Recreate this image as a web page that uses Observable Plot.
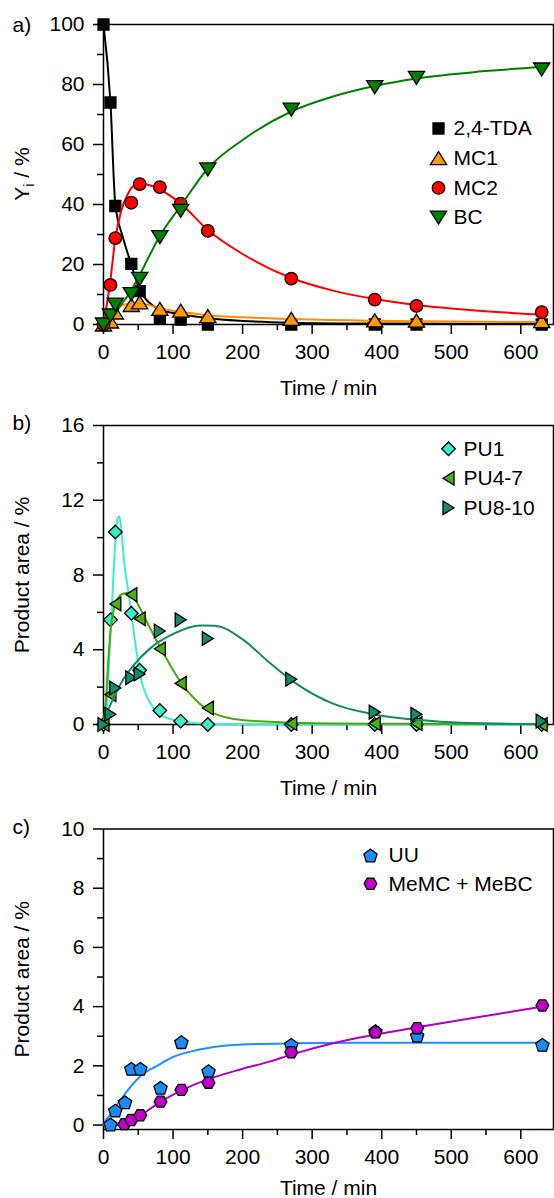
<!DOCTYPE html>
<html><head><meta charset="utf-8">
<script src="https://cdn.jsdelivr.net/npm/d3@7"></script>
<script src="https://cdn.jsdelivr.net/npm/@observablehq/plot@0.6"></script>
<style>
body{margin:0;background:#fff;}
#chart svg{display:block;}
</style></head>
<body><div id="chart"></div>
<script>
// ---------- DATA ----------
// panel a
const timeA = [0, 10, 17, 40, 52, 81, 111, 150, 270, 390, 450, 630];
const tda = [100, 74, 39.5, 20.2, 11.1, 2.2, 1.6, 0, 0, 0, 0, 0];
const mc1 = [0, 1, 4, 6.5, 7.4, 5.2, 4.6, 2.8, 1.9, 1.4, 1.3, 1.1];
const mc2 = [0, 13.2, 28.8, 40.6, 46.8, 45.8, 40.3, 31.2, 15.3, 8.3, 6.2, 4.1];
const bc = [0, 3, 6.6, 10.1, 15.2, 29.1, 37.9, 51.7, 71.6, 79.1, 82.2, 85];
const fitTdaT = [0, 10, 17, 28, 40, 52, 65, 81, 100, 125, 150, 200, 270, 390, 630];
const fitTda = [100, 74, 40, 29, 20, 11.5, 7.4, 5, 3.8, 2.9, 2.1, 1.2, 0.6, 0.3, 0.15];
const fitMc1T = [0, 5, 10, 17, 25, 35, 45, 55, 70, 81, 101, 125, 150, 200, 270, 390, 450, 630];
const fitMc1 = [0, 1.5, 3.2, 5, 6.2, 6.9, 7.1, 6.9, 6.2, 5.4, 4.5, 3.8, 3.1, 2.4, 1.8, 1.25, 1.05, 0.8];
const fitMc2T = [0, 5, 10, 17, 25, 35, 45, 55, 65, 81, 111, 150, 200, 270, 330, 390, 450, 540, 630];
const fitMc2 = [0, 7, 15, 28.5, 37.5, 43.5, 46.5, 47, 46.5, 45, 40.3, 31.5, 23.5, 15.5, 11.3, 8.5, 6.5, 4.6, 3.3];
const fitBcT = [0, 10, 20, 30, 40, 52, 65, 81, 111, 150, 200, 270, 330, 390, 450, 540, 630];
const fitBc = [0, 2, 5, 8, 11.5, 16.5, 22.5, 29.5, 39.5, 52, 61.5, 71, 76, 79.5, 82, 84.3, 85.8];
const seriesA = ["2,4-TDA", "MC1", "MC2", "BC"];

// panel b
const timeB = [0, 10, 17, 40, 52, 81, 111, 150, 270, 390, 450, 630];
const pu1 = [0, 5.6, 10.3, 5.95, 2.9, 0.75, 0.18, 0, 0, 0, 0, 0];
const pu47 = [0, 1.6, 6.45, 6.95, 5.66, 4.05, 2.2, 0.88, 0.05, 0.05, 0.05, 0];
const pu810 = [0, 0.55, 1.95, 2.5, 2.7, 5.0, 5.6, 4.6, 2.42, 0.66, 0.55, 0.18];
const fitPu1T = [0, 3, 7, 12.5, 17, 20, 22, 25, 27, 30, 35, 41, 44, 50, 53, 60, 68, 80, 92, 105, 120, 150, 200, 630];
const fitPu1 = [0, 0, 2.6, 6.6, 9.8, 11, 11.15, 10.7, 9.85, 8.6, 7.3, 5.7, 4.8, 3.3, 2.6, 1.7, 1.1, 0.55, 0.35, 0.2, 0.12, 0.04, 0.01, 0];
const fitPu47T = [0, 3.5, 7, 10, 15, 20, 28, 38, 50, 65, 82, 111, 149, 187, 254, 330, 450, 630];
const fitPu47 = [0, 1.3, 3.5, 5, 6.2, 6.7, 7, 7.05, 6.4, 5.3, 4.1, 2.27, 0.8, 0.3, 0.12, 0.06, 0.04, 0.03];
const fitPu810T = [0, 5, 13, 25, 44, 68, 101, 139, 160, 202, 235, 274, 331, 389, 451, 514, 630];
const fitPu810 = [0, 0.6, 1.3, 2.2, 3.2, 4.1, 4.86, 5.3, 5.28, 4.5, 3.43, 2.27, 1.1, 0.54, 0.25, 0.09, 0.03];
const seriesB = ["PU1", "PU4-7", "PU8-10"];

// panel c
const timeC = [10, 17, 31, 40, 53, 82, 112, 151, 270, 391, 451, 631];
const uu = [0.02, 0.49, 0.77, 1.9, 1.9, 1.26, 2.8, 1.82, 2.71, 3.17, 3.02, 2.71];
const timeC2 = [30, 40, 53, 82, 112, 151, 270, 391, 451, 631];
const memc = [0.03, 0.17, 0.33, 0.79, 1.19, 1.43, 2.46, 3.13, 3.27, 4.04];
const fitUuT = [0, 3, 10, 20, 34, 53, 77, 100, 125, 150, 200, 270, 390, 630];
const fitUu = [0, 0.15, 0.35, 0.7, 1.15, 1.65, 2.0, 2.3, 2.48, 2.6, 2.72, 2.76, 2.78, 2.78];
const fitMemcT = [20, 30, 40, 53, 82, 112, 151, 200, 240, 270, 336, 390, 451, 540, 631];
const fitMemc = [0, 0.05, 0.15, 0.33, 0.78, 1.17, 1.55, 1.9, 2.15, 2.38, 2.8, 3.05, 3.3, 3.65, 4.0];
const seriesC = ["UU", "MeMC + MeBC"];

// ticks
const xMajor = [0, 100, 200, 300, 400, 500, 600];
const xMinor = [50, 150, 250, 350, 450, 550];
const yMajorA = [0, 20, 40, 60, 80, 100], yMinorA = [10, 30, 50, 70, 90];
const yMajorB = [0, 4, 8, 12, 16], yMinorB = [2, 6, 10, 14];
const yMajorC = [0, 2, 4, 6, 8, 10], yMinorC = [1, 3, 5, 7, 9];

// ---------- SYMBOLS ----------
function sym(points) {
  return {draw(ctx, size) {
    const r = Math.sqrt(size / Math.PI);
    points.forEach(([x, y], i) => i ? ctx.lineTo(x * r, y * r) : ctx.moveTo(x * r, y * r));
    ctx.closePath();
  }};
}
const triUp = sym([[0, -1], [1.25, 1], [-1.25, 1]]);
const triDown = sym([[0, 1], [1.25, -1], [-1.25, -1]]);
const triLeft = sym([[-1, 0], [1, -1.25], [1, 1.25]]);
const triRight = sym([[1, 0], [-1, -1.25], [-1, 1.25]]);
const diamond = sym([[0, -1], [1, 0], [0, 1], [-1, 0]]);
const square = sym([[-1, -1], [1, -1], [1, 1], [-1, 1]]);
const pentagon = sym(d3.range(5).map(k => {const a = -Math.PI / 2 + k * 2 * Math.PI / 5; return [Math.cos(a), Math.sin(a) + 0.095];}));
const hexagon = sym(d3.range(6).map(k => {const a = k * Math.PI / 3; return [Math.cos(a), Math.sin(a)];}));

const FONT = "'Liberation Sans', Arial, Helvetica, sans-serif";
const pts = (t, v) => t.map((x, i) => ({t: x, v: v[i]}));

function axes(yMajor, yMinor) {
  return [
    Plot.axisX({ticks: xMajor, tickSize: 10, tickPadding: 10, label: null, fontSize: 21, strokeWidth: 1.5}),
    Plot.axisX({ticks: xMinor, tickSize: 6, fill: "none", label: null, strokeWidth: 1.5}),
    Plot.axisY({ticks: yMajor, tickSize: 10, tickPadding: 9, label: null, fontSize: 21, strokeWidth: 1.5}),
    Plot.axisY({ticks: yMinor, tickSize: 6, fill: "none", label: null, strokeWidth: 1.5}),
    Plot.frame({strokeWidth: 1.5})
  ];
}
function series(t, v, ft, fv, st) {
  return [
    Plot.line(pts(ft, fv), {x: "t", y: "v", stroke: st.line, strokeWidth: 2, curve: "monotone-x"}),
    Plot.dot(pts(t, v), {x: "t", y: "v", symbol: st.symbol, r: st.r, fill: st.fill, stroke: "#000", strokeWidth: 1.3})
  ];
}
function legend(labels, styles, dxSym, dxText, dy0, step) {
  return labels.flatMap((lab, i) => [
    Plot.dot([0], {frameAnchor: "top-left", dx: dxSym, dy: dy0 + i * step, symbol: styles[i].symbol, r: styles[i].r, fill: styles[i].fill, stroke: "#000", strokeWidth: 1.3}),
    Plot.text([lab], {frameAnchor: "top-left", dx: dxText, dy: dy0 + i * step, textAnchor: "start", lineAnchor: "middle", fontSize: 21, fill: "#000"})
  ]);
}
const txt = (s, o) => Plot.text([s], {fontSize: 21, fill: "#000", lineAnchor: "middle", ...o});
const baseStyle = {fontFamily: FONT, fontSize: "21px", color: "#000", background: "#fff", overflow: "visible"};
const xScale = {domain: [0, 647]};

// ---------- PANEL A ----------
const stA = [
  {symbol: square, r: 5.5, fill: "#000000", line: "#000000"},
  {symbol: triUp, r: 6.5, fill: "#FF9900", line: "#FF8C00"},
  {symbol: "circle", r: 6.3, fill: "#FF0000", line: "#FF0000"},
  {symbol: triDown, r: 6.5, fill: "#008000", line: "#008000"}
];
const plotA = Plot.plot({
  width: 554, height: 400, marginTop: 24, marginBottom: 76, marginLeft: 103, marginRight: 1,
  style: baseStyle, x: xScale, y: {domain: [0, 100]},
  marks: [
    ...axes(yMajorA, yMinorA),
    ...series(timeA, tda, fitTdaT, fitTda, stA[0]),
    ...series(timeA, mc1, fitMc1T, fitMc1, stA[1]),
    ...series(timeA, mc2, fitMc2T, fitMc2, stA[2]),
    ...series(timeA, bc, fitBcT, fitBc, stA[3]),
    ...legend(seriesA, stA, 335, 350, 104, 29.7),
    txt("Time / min", {frameAnchor: "bottom", dy: 64, textAnchor: "middle"}),
    txt("a)", {frameAnchor: "top-left", dx: -91, dy: 1, textAnchor: "start"})
  ]
});
// y-axis title with subscript
{
  const t = d3.select(plotA).append("text")
    .attr("transform", "translate(22,174) rotate(-90)")
    .attr("text-anchor", "middle").attr("dy", "0.35em")
    .attr("font-size", 21).attr("fill", "#000").attr("font-family", FONT);
  t.append("tspan").text("Y");
  t.append("tspan").attr("font-size", 14).attr("dy", 5).text("i");
  t.append("tspan").attr("dy", -5).text(" / %");
}

// ---------- PANEL B ----------
const stB = [
  {symbol: diamond, r: 6.8, fill: "#36F0C6", line: "#36F2C8"},
  {symbol: triLeft, r: 5.5, fill: "#4EAF14", line: "#4AA80F"},
  {symbol: triRight, r: 5.5, fill: "#178A6A", line: "#138A62"}
];
const plotB = Plot.plot({
  width: 554, height: 400, marginTop: 25, marginBottom: 76, marginLeft: 103, marginRight: 1,
  style: baseStyle, x: xScale, y: {domain: [0, 16]},
  marks: [
    ...axes(yMajorB, yMinorB),
    ...series(timeB, pu1, fitPu1T, fitPu1, stB[0]),
    ...series(timeB, pu47, fitPu47T, fitPu47, stB[1]),
    ...series(timeB, pu810, fitPu810T, fitPu810, stB[2]),
    ...legend(seriesB, stB, 345, 360, 23.3, 29.5),
    txt("Time / min", {frameAnchor: "bottom", dy: 64, textAnchor: "middle"}),
    txt("Product area / %", {frameAnchor: "left", dx: -81, rotate: -90, textAnchor: "middle"}),
    txt("b)", {frameAnchor: "top-left", dx: -91, dy: -2, textAnchor: "start"})
  ]
});

// ---------- PANEL C ----------
const stC = [
  {symbol: pentagon, r: 7, fill: "#1A8CF5", line: "#1E90FF"},
  {symbol: hexagon, r: 6.4, fill: "#C000C8", line: "#B400C0"}
];
const plotC = Plot.plot({
  width: 554, height: 398, marginTop: 28.5, marginBottom: 69, marginLeft: 103, marginRight: 1,
  style: baseStyle, x: xScale, y: {domain: [-0.15, 10]},
  marks: [
    ...axes(yMajorC, yMinorC),
    ...series(timeC, uu, fitUuT, fitUu, stC[0]),
    ...series(timeC2, memc, fitMemcT, fitMemc, stC[1]),
    ...legend(seriesC, stC, 267, 285, 26.5, 28.3),
    txt("Time / min", {frameAnchor: "bottom", dy: 59, textAnchor: "middle"}),
    txt("Product area / %", {frameAnchor: "left", dx: -81, rotate: -90, textAnchor: "middle"}),
    txt("c)", {frameAnchor: "top-left", dx: -91, dy: -2, textAnchor: "start"})
  ]
});

const chart = document.getElementById("chart");
chart.append(plotA, plotB, plotC);
// make sure tick labels use the intended size
d3.selectAll("#chart g[aria-label$='tick label']").attr("font-size", 21).attr("font-variant", null);
</script>
</body></html>
